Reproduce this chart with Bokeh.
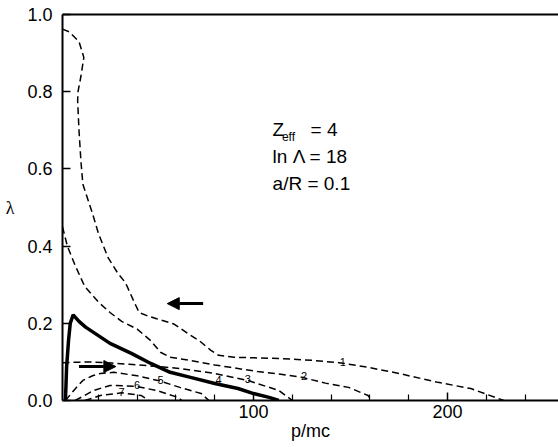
from bokeh.plotting import figure
from bokeh.models import Label, Arrow, NormalHead, FixedTicker, PrintfTickFormatter, Range1d, LinearAxis
from bokeh.embed import file_html
from bokeh.resources import INLINE

# ---- data ----
c1_x = [1.5, 5, 10, 12.5, 11, 9.5, 9.3, 10, 11, 12, 17, 20, 25, 30, 34, 38, 41, 45, 50, 59, 66, 72, 78, 82, 90, 97, 113, 130, 144, 159, 175, 195, 212, 229]
c1_y = [0.962, 0.955, 0.93, 0.889, 0.84, 0.80, 0.777, 0.70, 0.62, 0.56, 0.484, 0.433, 0.37, 0.33, 0.305, 0.26, 0.228, 0.22, 0.212, 0.198, 0.174, 0.155, 0.13, 0.117, 0.112, 0.111, 0.109, 0.104, 0.098, 0.086, 0.07, 0.047, 0.031, 0.0]

c2_x = [1.5, 4, 8, 13, 20, 26, 32, 40, 47, 52, 57, 67, 80, 88, 102, 114, 125, 137, 149, 159, 161]
c2_y = [0.45, 0.40, 0.35, 0.295, 0.255, 0.228, 0.205, 0.185, 0.155, 0.125, 0.112, 0.104, 0.092, 0.086, 0.075, 0.068, 0.06, 0.045, 0.034, 0.013, 0.0]

c3_x = [1.5, 16, 27, 36, 46, 62, 80, 97, 113, 120]
c3_y = [0.098, 0.1, 0.097, 0.094, 0.09, 0.083, 0.07, 0.052, 0.026, 0.0]

thick_x = [3, 3.3, 3.6, 4.6, 5.5, 7, 10, 13.4, 20, 26, 37, 47, 57, 67.5, 80, 92, 100, 108, 113]
thick_y = [0.0, 0.04, 0.085, 0.155, 0.2, 0.222, 0.205, 0.19, 0.168, 0.148, 0.122, 0.096, 0.073, 0.06, 0.044, 0.031, 0.018, 0.008, 0.0]

c5_x = [3, 8, 12, 17, 21, 28, 40, 52, 62, 73, 77]
c5_y = [0.0, 0.03, 0.052, 0.064, 0.07, 0.073, 0.064, 0.05, 0.034, 0.018, 0.0]

c6_x = [8, 13, 17.5, 26, 39, 50, 61, 63]
c6_y = [0.0, 0.013, 0.026, 0.039, 0.037, 0.026, 0.008, 0.0]

c7_x = [13, 17, 21, 32, 42, 46]
c7_y = [0.0, 0.006, 0.013, 0.02, 0.013, 0.0]

contour_labels = ["1", "2", "3", "4", "5", "6", "7"]
contour_label_x = [146, 126, 97, 82, 52, 40, 32]
contour_label_y = [0.1, 0.064, 0.056, 0.052, 0.052, 0.04, 0.022]

y_ticks = [0.0, 0.2, 0.4, 0.6, 0.8, 1.0]
x_major_ticks = [100, 200]
x_minor_ticks = [20, 40, 60, 80, 120, 140, 160, 180, 220, 240]

FONT = "Liberation Sans"

p = figure(width=558, height=447, output_backend="svg", toolbar_location=None,
           x_range=Range1d(1.5, 257.2), y_range=Range1d(0.0, 1.0),
           min_border_left=62, min_border_right=0, min_border_top=14, min_border_bottom=47,
           x_axis_label="p/mc", y_axis_label="\u03bb")
p.xgrid.visible = False
p.ygrid.visible = False
p.outline_line_color = None
p.background_fill_color = "white"
p.border_fill_color = "white"

p.xaxis.ticker = FixedTicker(ticks=x_major_ticks, minor_ticks=x_minor_ticks)
p.yaxis.ticker = FixedTicker(ticks=y_ticks, minor_ticks=[])
p.yaxis.formatter = PrintfTickFormatter(format="%.1f")
for ax in (p.xaxis[0], p.yaxis[0]):
    ax.axis_line_width = 2
    ax.axis_line_color = "black"
    ax.major_tick_in = 8
    ax.major_tick_out = 0
    ax.minor_tick_in = 6
    ax.minor_tick_out = 0
    ax.major_tick_line_width = 1.5
    ax.minor_tick_line_width = 1.2
    ax.major_label_text_font = FONT
    ax.major_label_text_font_size = "18px"
    ax.major_label_text_color = "black"
    ax.axis_label_text_font = FONT
    ax.axis_label_text_font_style = "normal"
    ax.axis_label_text_color = "black"
p.yaxis.major_label_standoff = 10
p.xaxis.major_label_standoff = 4
p.xaxis.axis_label_text_font_size = "18px"
p.xaxis.axis_label_standoff = 0
p.yaxis.axis_label_text_font = "Liberation Serif"
p.yaxis.axis_label_text_font_size = "18px"
p.yaxis.axis_label_orientation = "horizontal"
p.yaxis.axis_label_standoff = 10

top = LinearAxis(ticker=FixedTicker(ticks=[]), major_label_text_font_size="0px",
                 axis_line_width=2, axis_line_color="black",
                 major_tick_line_color=None, minor_tick_line_color=None)
p.add_layout(top, "above")

dash = "7 4"
for xs, ys in [(c1_x, c1_y), (c2_x, c2_y), (c3_x, c3_y), (c5_x, c5_y), (c6_x, c6_y), (c7_x, c7_y)]:
    p.line(xs, ys, line_color="black", line_width=1.5, line_dash=dash)
p.line(thick_x, thick_y, line_color="black", line_width=3.5)

for t, lx, ly in zip(contour_labels, contour_label_x, contour_label_y):
    p.add_layout(Label(x=lx, y=ly, text=t, text_font=FONT, text_font_size="11px",
                       text_align="center", text_baseline="middle", text_color="black"))

# arrows
p.add_layout(Arrow(end=NormalHead(size=12, fill_color="black", line_color="black"),
                   x_start=74, y_start=0.251, x_end=55.5, y_end=0.251,
                   line_width=3, line_color="black"))
p.add_layout(Arrow(end=NormalHead(size=12, fill_color="black", line_color="black"),
                   x_start=10, y_start=0.088, x_end=29, y_end=0.088,
                   line_width=3, line_color="black"))

# annotations
p.add_layout(Label(x=109.8, y=0.674, text="Z", text_font=FONT, text_font_size="19px", text_color="black"))
p.add_layout(Label(x=114.6, y=0.664, text="eff", text_font=FONT, text_font_size="12px", text_color="black"))
p.add_layout(Label(x=129.4, y=0.674, text="= 4", text_font=FONT, text_font_size="19px", text_color="black"))
p.add_layout(Label(x=109.8, y=0.604, text="ln \u039b = 18", text_font=FONT, text_font_size="19px", text_color="black"))
p.add_layout(Label(x=109.8, y=0.536, text="a/R = 0.1", text_font=FONT, text_font_size="19px", text_color="black"))

open("out.html", "w").write(file_html(p, INLINE))
